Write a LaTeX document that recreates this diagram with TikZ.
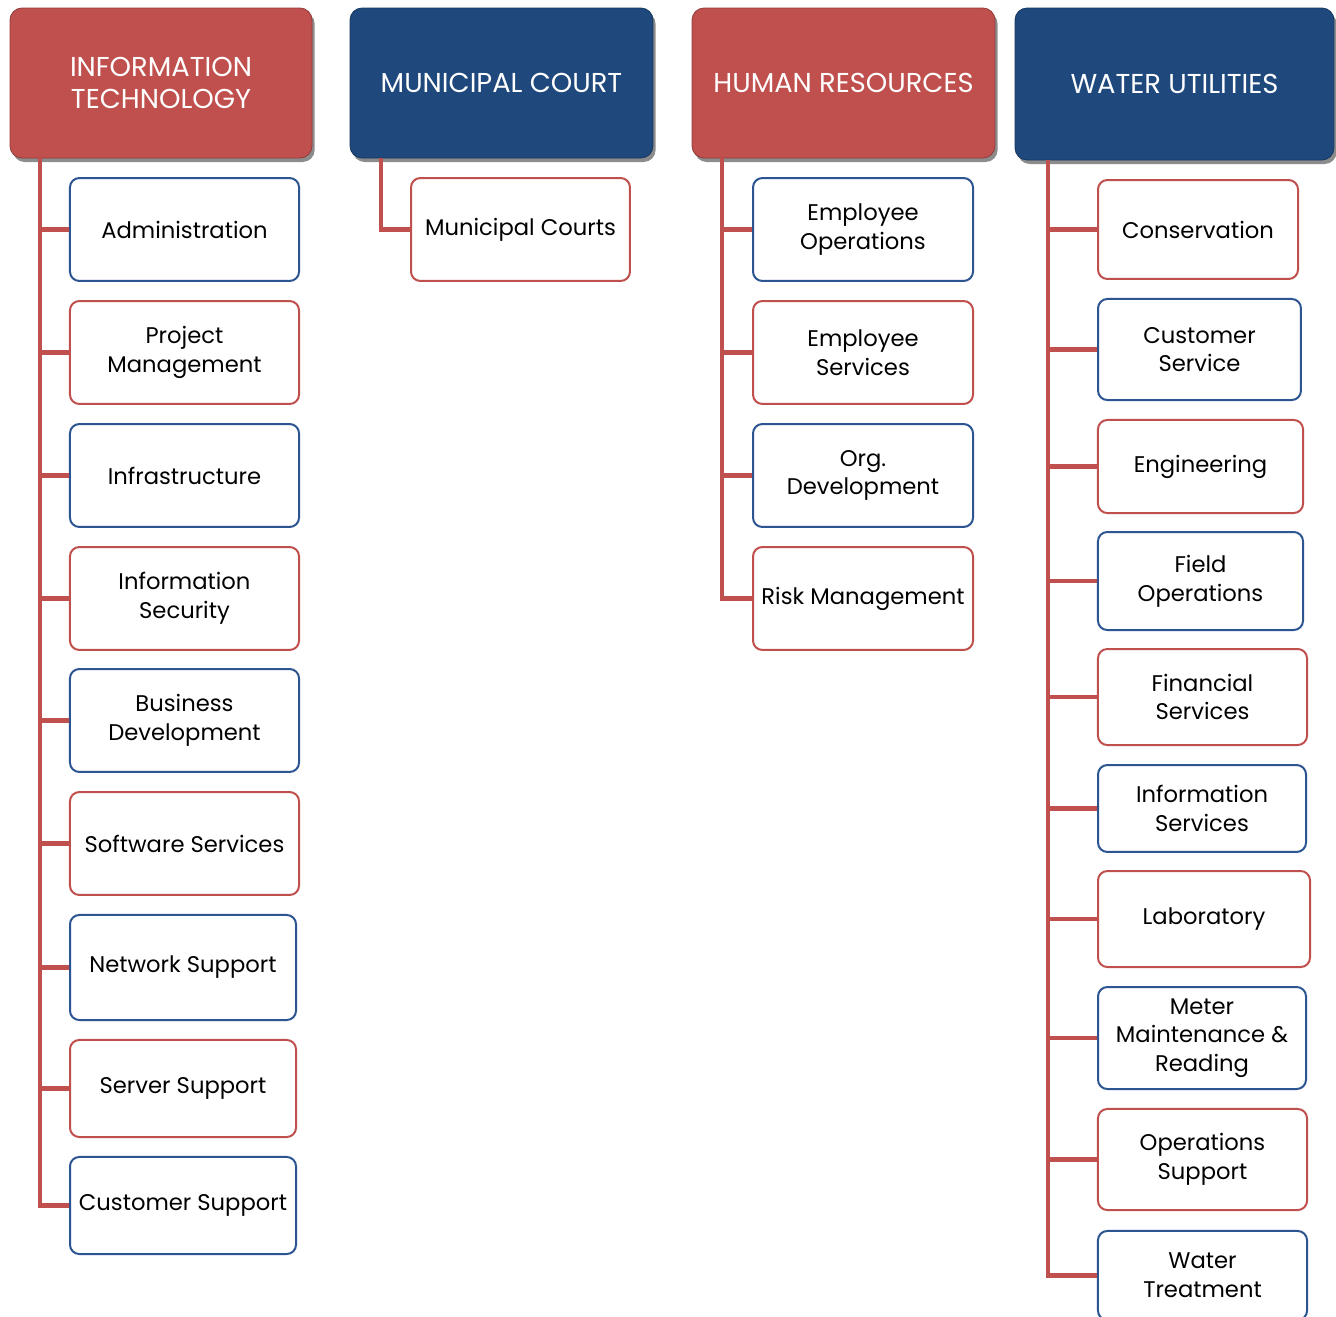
\documentclass[tikz,border=0pt]{standalone}
\usepackage{fontspec}
\setmainfont{Poppins}
\usetikzlibrary{shadows}
\definecolor{deptred}{HTML}{C0504D}
\definecolor{deptblue}{HTML}{1F497D}
\definecolor{edgeblue}{HTML}{2C5591}
\tikzset{
  head/.style={rounded corners=9pt, draw=#1!75!black, line width=0.6pt, fill=#1,
    text=white, align=center, font=\fontsize{20.5}{24}\selectfont,
    minimum height=112.5pt, inner sep=0pt,
    drop shadow={shadow xshift=2pt, shadow yshift=-3pt, opacity=0.45, fill=black}},
  unit/.style={draw=#1, line width=1.5pt, rounded corners=7pt, fill=white,
    align=center, font=\fontsize{17}{21.5}\selectfont, inner sep=0pt},
  conn/.style={draw=deptred, line width=3.2pt},
}
\begin{document}
\begin{tikzpicture}[x=0.75pt, y=-0.75pt]
\useasboundingbox[fill=white] (0,0) rectangle (1336,1317);

% department headers
\node[head=deptred,  minimum width=226.5pt] (it) at (161,83)    {INFORMATION\\TECHNOLOGY};
\node[head=deptblue, minimum width=227.2pt] (mc) at (501.5,83)  {MUNICIPAL COURT};
\node[head=deptred,  minimum width=227.2pt] (hr) at (843.5,83)  {HUMAN RESOURCES};
\node[head=deptblue, minimum width=239.2pt, minimum height=114pt] (wu) at (1174.5,84) {WATER UTILITIES};

% information technology units
\node[unit=edgeblue, minimum width=171.8pt, minimum height=77.2pt] (it1) at (184.5,229.5) {Administration};
\node[unit=deptred,  minimum width=171.8pt, minimum height=77.2pt] (it2) at (184.5,352.5) {Project\\Management};
\node[unit=edgeblue, minimum width=171.8pt, minimum height=77.2pt] (it3) at (184.5,475.5) {Infrastructure};
\node[unit=deptred,  minimum width=171.8pt, minimum height=77.2pt] (it4) at (184.5,598.5) {Information\\Security};
\node[unit=edgeblue, minimum width=171.8pt, minimum height=77.2pt] (it5) at (184.5,720.5) {Business\\Development};
\node[unit=deptred,  minimum width=171.8pt, minimum height=77.2pt] (it6) at (184.5,843.5) {Software Services};
\node[unit=edgeblue, minimum width=169.5pt, minimum height=78.8pt] (it7) at (183,967.5)   {Network Support};
\node[unit=deptred,  minimum width=169.5pt, minimum height=72.8pt] (it8) at (183,1088.5)  {Server Support};
\node[unit=edgeblue, minimum width=169.5pt, minimum height=72.8pt] (it9) at (183,1205.5)  {Customer Support};

% municipal court unit
\node[unit=deptred, minimum width=164.2pt, minimum height=77.2pt] (mc1) at (520.5,229.5) {Municipal Courts};

% human resources units
\node[unit=edgeblue, minimum width=165pt, minimum height=77.2pt] (hr1) at (863,229.5) {Employee\\Operations};
\node[unit=deptred,  minimum width=165pt, minimum height=77.2pt] (hr2) at (863,352.5) {Employee\\Services};
\node[unit=edgeblue, minimum width=165pt, minimum height=77.2pt] (hr3) at (863,475.5) {Org.\\Development};
\node[unit=deptred,  minimum width=165pt, minimum height=77.2pt] (hr4) at (863,598.5) {Risk Management};

% water utilities units
\node[unit=deptred,  minimum width=150pt,   minimum height=74.2pt] (wu1)  at (1198,229.5)   {Conservation};
\node[unit=edgeblue, minimum width=152.2pt, minimum height=75.8pt] (wu2)  at (1199.5,349.5) {Customer\\Service};
\node[unit=deptred,  minimum width=153.8pt, minimum height=69.8pt] (wu3)  at (1200.5,466.5) {Engineering};
\node[unit=edgeblue, minimum width=153.8pt, minimum height=73.5pt] (wu4)  at (1200.5,581)   {Field\\Operations};
\node[unit=deptred,  minimum width=156.8pt, minimum height=72pt]   (wu5)  at (1202.5,697)   {Financial\\Services};
\node[unit=edgeblue, minimum width=156pt,   minimum height=65.2pt] (wu6)  at (1202,808.5)   {Information\\Services};
\node[unit=deptred,  minimum width=159pt,   minimum height=72pt]   (wu7)  at (1204,919)     {Laboratory};
\node[unit=edgeblue, minimum width=156pt,   minimum height=76.5pt] (wu8)  at (1202,1038)    {Meter\\Maintenance \&\\Reading};
\node[unit=deptred,  minimum width=156.8pt, minimum height=75.8pt] (wu9)  at (1202.5,1159.5){Operations\\Support};
\node[unit=edgeblue, minimum width=156.8pt, minimum height=66.8pt] (wu10) at (1202.5,1275.5){Water\\Treatment};

% connector trunks, each leaving its header
\coordinate (itbus) at (it.south -| 40,0);
\coordinate (mcbus) at (mc.south -| 381,0);
\coordinate (hrbus) at (hr.south -| 722,0);
\coordinate (wubus) at (wu.south -| 1048,0);

\foreach \u in {it1,it2,it3,it4,it5,it6,it7,it8,it9}
  \draw[conn] (itbus) |- (\u.west);
\draw[conn] (mcbus) |- (mc1.west);
\foreach \u in {hr1,hr2,hr3,hr4}
  \draw[conn] (hrbus) |- (\u.west);
\foreach \u in {wu1,wu2,wu3,wu4,wu5,wu6,wu7,wu8,wu9,wu10}
  \draw[conn] (wubus) |- (\u.west);
\end{tikzpicture}
\end{document}
